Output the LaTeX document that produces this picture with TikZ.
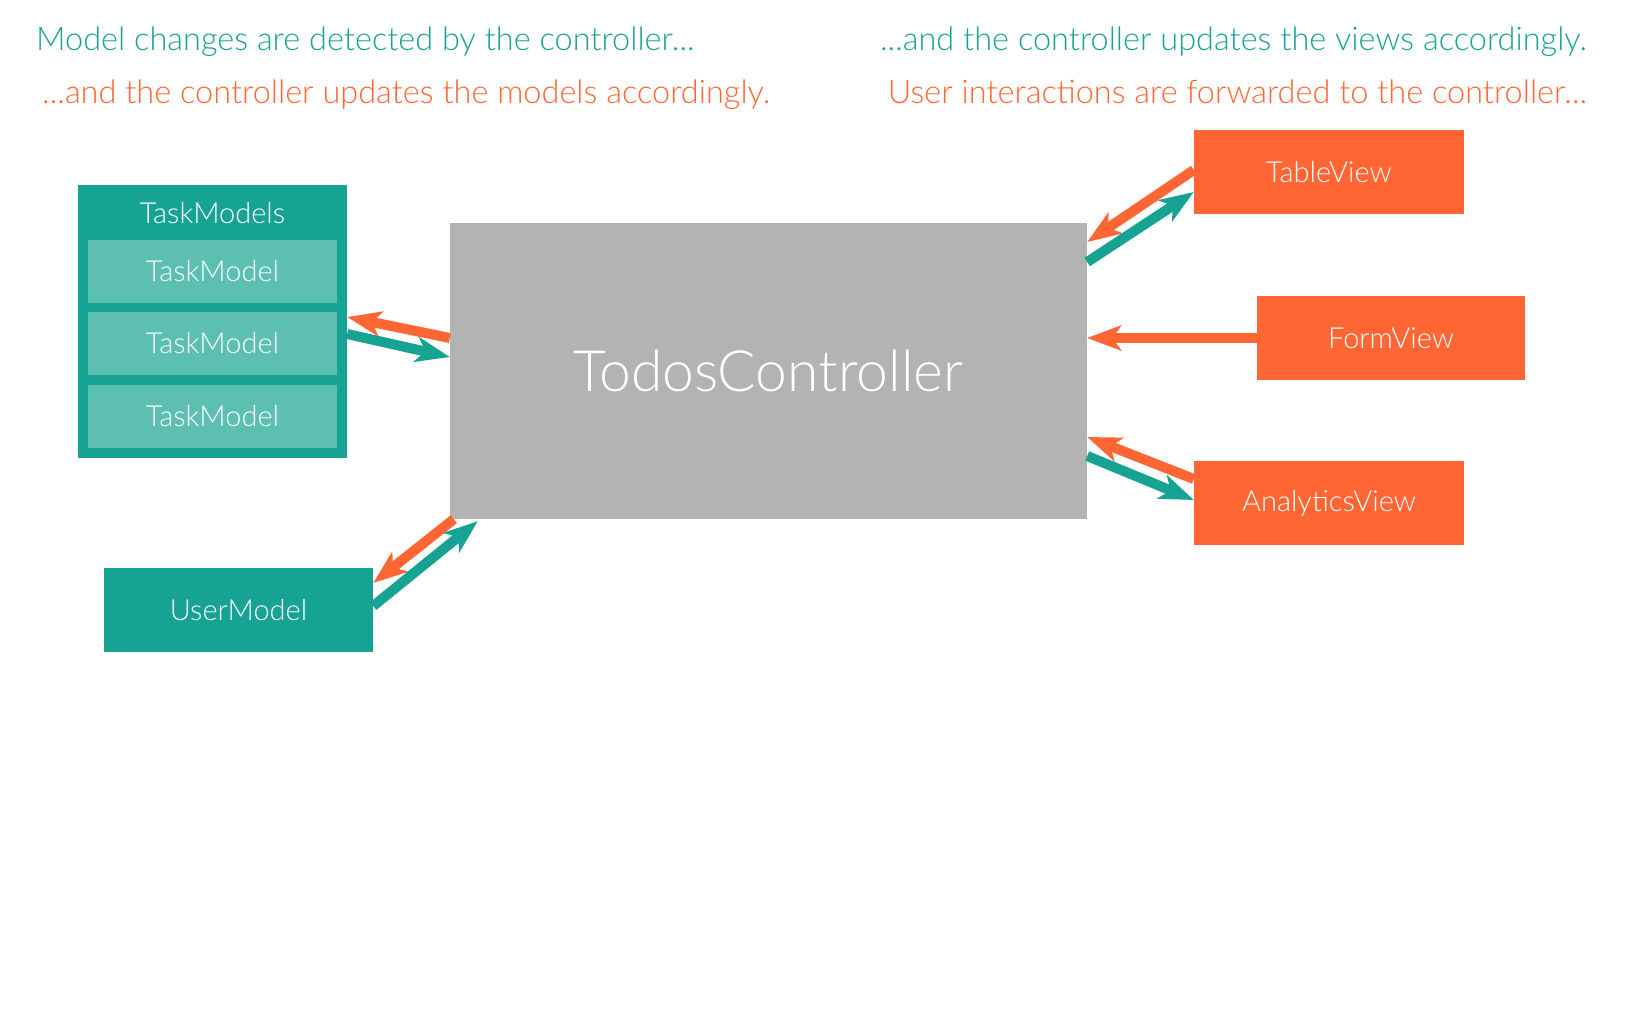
\documentclass[tikz,border=0pt]{standalone}
\usepackage{fontspec}
\setmainfont{Lato Light}
\usetikzlibrary{arrows.meta}
\definecolor{teal1}{HTML}{17A394}
\definecolor{orange1}{HTML}{FF6633}
\definecolor{gray1}{HTML}{B3B3B3}
\definecolor{lteal}{HTML}{5DBFB2}
\tikzset{
  box/.style={rectangle, inner sep=0pt, minimum width=270pt, minimum height=84pt, text=white, font=\fontsize{29}{34}\selectfont},
  viewbox/.style={box, fill=orange1},
  modelbox/.style={box, fill=teal1},
  innerbox/.style={box, fill=lteal, minimum width=249pt, minimum height=63pt},
  conn/.style={line width=10pt, -{Stealth[length=34pt, width=25pt, inset=9pt]}},
  oconn/.style={conn, draw=orange1, fill=orange1},
  tconn/.style={conn, draw=teal1, fill=teal1},
  caption/.style={inner sep=0pt, font=\fontsize{32.5}{38}\selectfont},
}
\begin{document}
\begin{tikzpicture}[x=1pt,y=-1pt]
\useasboundingbox (0,0) rectangle (1627,1021);
\fill[white] (0,0) rectangle (1627,1021);
% captions
\node[caption, text=teal1, anchor=base west] (c1) at (36,50) {Model changes are detected by the controller...};
\node[caption, text=orange1, anchor=base west] (c2) at (42,103) {...and the controller updates the models accordingly.};
\node[caption, text=teal1, anchor=base east] (c3) at (1587,50) {...and the controller updates the views accordingly.};
\node[caption, text=orange1, anchor=base east] (c4) at (1587,103) {User interactions are forwarded to the controller...};
% controller
\node[rectangle, inner sep=0pt, fill=gray1, minimum width=637pt, minimum height=296pt, text=white, font=\fontsize{57}{64}\selectfont] (ctrl) at (768.5,371) {TodosController};
% task models
\node[modelbox, minimum width=269pt, minimum height=273pt] (tms) at (212.5,321.5) {};
\node[inner sep=0pt, text=white, font=\fontsize{29}{34}\selectfont] (tmstitle) at (212.5,213) {TaskModels};
\node[innerbox] (tm1) at (212.5,271.5) {TaskModel};
\node[innerbox] (tm2) at (212.5,343.5) {TaskModel};
\node[innerbox] (tm3) at (212.5,416.5) {TaskModel};
% user model
\node[modelbox, minimum width=269pt] (um) at (238.5,610) {UserModel};
% views
\node[viewbox] (tv) at (1329,172) {TableView};
\node[viewbox, minimum width=268pt] (fv) at (1391,338) {FormView};
\node[viewbox] (av) at (1329,503) {AnalyticsView};
% connectors left
\draw[oconn] ([yshift=33pt]ctrl.west) -- ([yshift=4.5pt]tms.east);
\draw[tconn] ([yshift=-12.5pt]tms.east) -- ([yshift=14pt]ctrl.west);
\draw[oconn] ([xshift=4pt]ctrl.south west) -- ([yshift=27pt]um.east);
\draw[tconn] ([yshift=4pt]um.east) -- ([xshift=28pt,yshift=-2pt]ctrl.south west);
% connectors right
\draw[oconn] ([yshift=2pt]tv.west) -- ([yshift=129pt]ctrl.east);
\draw[tconn] ([yshift=109pt]ctrl.east) -- ([yshift=-20pt]tv.west);
\draw[oconn] (fv.west) -- ([yshift=33pt]ctrl.east);
\draw[oconn] ([yshift=24pt]av.west) -- ([yshift=-66pt]ctrl.east);
\draw[tconn] ([yshift=-85pt]ctrl.east) -- ([yshift=3pt]av.west);
\end{tikzpicture}
\end{document}
